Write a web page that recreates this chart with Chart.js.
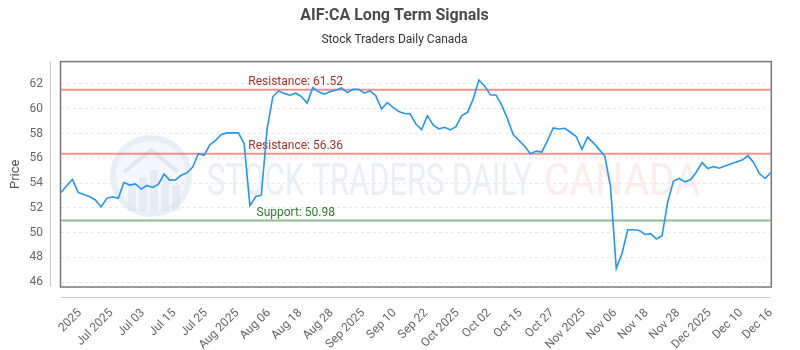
<!DOCTYPE html>
<html><head><meta charset="utf-8">
<script src="https://cdn.jsdelivr.net/npm/chart.js@4.4.1/dist/chart.umd.min.js"></script>
<style>html,body{margin:0;padding:0;background:#fff}#wrap{width:800px;height:350px}</style>
</head><body><div id="wrap"><canvas id="c" width="800" height="350"></canvas></div>
<script>
const prices = [
  53.25,53.78,54.29,53.25,53.09,52.90,52.64,52.08,52.77,52.90,
  52.77,54.05,53.84,53.94,53.52,53.81,53.65,53.89,54.72,54.24,
  54.26,54.64,54.82,55.30,56.37,56.24,57.09,57.44,57.92,58.05,
  58.05,58.05,57.17,52.18,52.90,53.04,58.37,60.96,61.44,61.22,
  61.09,61.25,60.98,60.45,61.70,61.36,61.17,61.36,61.49,61.68,
  61.30,61.57,61.57,61.25,61.44,61.04,59.97,60.50,60.10,59.78,
  59.62,59.58,58.77,58.32,59.44,58.69,58.37,58.50,58.29,58.56,
  59.44,59.70,60.77,62.32,61.84,61.12,61.09,60.29,59.17,57.92,
  57.44,56.98,56.37,56.58,56.50,57.44,58.45,58.37,58.42,58.10,
  57.76,56.72,57.70,57.25,56.72,56.18,53.70,47.12,48.32,50.24,
  50.24,50.18,49.86,49.92,49.49,49.76,52.50,54.16,54.37,54.10,
  54.29,54.90,55.65,55.17,55.33,55.20,55.38,55.54,55.70,55.86,
  56.21,55.65,54.77,54.37,54.85
];
const tickLabels = ["2025","Jul 2025","Jul 03","Jul 15","Jul 25","Aug 2025","Aug 06","Aug 18","Aug 28","Sep 2025","Sep 10","Sep 22","Oct 2025","Oct 02","Oct 15","Oct 27","Nov 2025","Nov 06","Nov 18","Nov 28","Dec 2025","Dec 10","Dec 16"];
const tickAt = [3.3,8.8,14.3,19.8,25.3,30.8,36.3,41.8,47.3,52.8,58.3,63.8,69.3,74.8,80.3,85.8,91.3,96.8,102.3,107.8,113.3,118.8,124];
const resistanceLevels = [61.52, 56.36];
const supportLevels = [50.98];
const yTicks = [46,48,50,52,54,56,58,60,62];

const FONT = "Roboto, 'Open Sans', sans-serif";

const decor = {
  id: 'decor',
  beforeDraw(chart) {
    const ctx = chart.ctx;
    ctx.save();
    ctx.fillStyle = '#fff';
    ctx.fillRect(0, 0, chart.width, chart.height);
    // watermark logo
    ctx.strokeStyle = 'rgba(210,222,238,0.5)';
    ctx.lineWidth = 6;
    ctx.beginPath(); ctx.arc(151, 176, 38, 0, Math.PI * 2); ctx.stroke();
    ctx.fillStyle = 'rgba(220,230,242,0.3)';
    ctx.beginPath(); ctx.arc(151, 176, 35, 0, Math.PI * 2); ctx.fill();
    ctx.fillStyle = 'rgba(205,218,235,0.4)';
    [[128,185,8,26],[139,178,8,33],[150,170,8,41],[161,178,8,33],[172,185,8,26]].forEach(r=>ctx.fillRect(r[0],r[1],r[2],r[3]));
    ctx.strokeStyle = 'rgba(205,218,235,0.55)'; ctx.lineWidth = 4;
    ctx.beginPath(); ctx.moveTo(124,172); ctx.lineTo(151,150); ctx.lineTo(178,172); ctx.stroke();
    ctx.font = "44px " + FONT;
    ctx.textBaseline = 'alphabetic';
    ctx.textAlign = 'left';
    ctx.fillStyle = 'rgba(214,224,238,0.5)';
    ctx.fillText('STOCK TRADERS DAILY', 207, 195, 325);
    ctx.fillStyle = 'rgba(250,212,212,0.45)';
    ctx.fillText('CANADA', 544, 195, 156);
    ctx.restore();
  },
  beforeDatasetsDraw(chart) {
    const ctx = chart.ctx, a = chart.chartArea;
    const y = chart.scales.y, x = chart.scales.x;
    ctx.save();
    // offset axis lines
    ctx.strokeStyle = '#c8c8c8'; ctx.lineWidth = 1;
    ctx.beginPath(); ctx.moveTo(50.5, a.top); ctx.lineTo(50.5, a.bottom); ctx.stroke();
    ctx.beginPath(); ctx.moveTo(a.left, a.bottom + 10.5); ctx.lineTo(a.right, a.bottom + 10.5); ctx.stroke();
    // level lines
    const labelX = x.getPixelForValue(41);
    const drawLevel = (v, lineCol, textCol, txt) => {
      const py = y.getPixelForValue(v);
      ctx.strokeStyle = lineCol; ctx.lineWidth = 2;
      ctx.beginPath(); ctx.moveTo(a.left, py); ctx.lineTo(a.right, py); ctx.stroke();
      ctx.fillStyle = textCol;
      ctx.font = "12px " + FONT;
      ctx.textAlign = 'center'; ctx.textBaseline = 'alphabetic';
      ctx.fillText(txt, labelX, py - 4.5);
    };
    resistanceLevels.forEach(v => drawLevel(v, 'rgba(232,120,112,0.8)', '#a8322a', 'Resistance: ' + v.toFixed(2)));
    supportLevels.forEach(v => drawLevel(v, 'rgba(120,180,120,0.85)', '#2e7d32', 'Support: ' + v.toFixed(2)));
    // plot border
    ctx.strokeStyle = '#777'; ctx.lineWidth = 1.5;
    ctx.strokeRect(a.left - 0.5, a.top, a.right - a.left + 1, a.bottom - a.top);
    ctx.restore();
  }
};

new Chart(document.getElementById('c'), {
  type: 'line',
  data: {
    datasets: [{
      data: prices.map((v, i) => ({x: i, y: v})),
      borderColor: '#2196f3',
      borderWidth: 1.6,
      pointRadius: 0,
      tension: 0,
      fill: false
    }]
  },
  options: {
    responsive: false,
    animation: false,
    devicePixelRatio: 1,
    layout: {padding: {left: 0, right: 11, top: 0, bottom: 0}},
    plugins: {
      legend: {display: false},
      tooltip: {enabled: false},
      title: {display: true, text: 'AIF:CA Long Term Signals', color: '#4a4a4a',
        font: {family: FONT, size: 16, weight: 'bold'}, padding: {top: 6, bottom: 4}},
      subtitle: {display: true, text: 'Stock Traders Daily Canada', color: '#333',
        font: {family: FONT, size: 12}, padding: {top: 4, bottom: 14}}
    },
    scales: {
      x: {
        type: 'linear', min: 0, max: prices.length - 1,
        grid: {display: false, drawTicks: false},
        border: {display: false},
        afterBuildTicks: s => { s.ticks = tickAt.map(v => ({value: v})); },
        afterFit: s => { s.height = 63; },
        ticks: {autoSkip: false, maxRotation: 45, minRotation: 45, padding: 19,
          color: '#666', font: {family: FONT, size: 12},
          callback: (v, i) => tickLabels[i]}
      },
      y: {
        min: 45.62, max: 63.8,
        grid: {color: '#e8e8e8', drawTicks: false},
        border: {display: false, dash: [3, 3]},
        afterBuildTicks: s => { s.ticks = yTicks.map(v => ({value: v})); },
        afterFit: s => { s.width = 61; },
        title: {display: true, text: 'Price', color: '#555', font: {family: FONT, size: 13}, padding: {top: 8, bottom: 0}},
        ticks: {color: '#666', padding: 18, font: {family: FONT, size: 12}}
      }
    }
  },
  plugins: [decor]
});
</script>
</body></html>
